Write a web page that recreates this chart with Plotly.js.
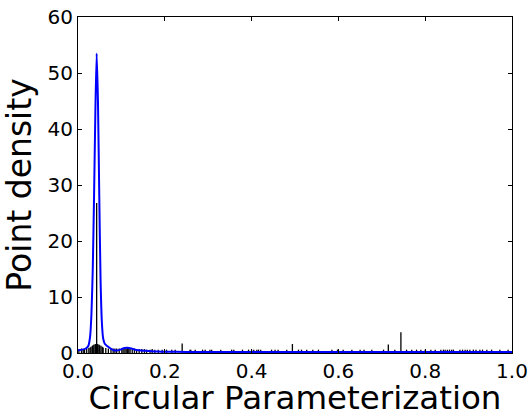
<!DOCTYPE html>
<html>
<head>
<meta charset="utf-8">
<script src="https://cdn.plot.ly/plotly-3.0.1.min.js"></script>
<style>html,body{margin:0;padding:0;background:#fff;}#chart{width:531px;height:417px;}</style>
</head>
<body>
<div id="chart"></div>
<script>
// KDE curve
const kdeX = [0.000,0.010,0.018,0.024,0.028,0.031,0.034,0.037,0.040,0.043,0.046,0.049,0.052,0.055,0.058,0.062,0.068,0.075,0.082,0.090,0.098,0.105,0.112,0.118,0.125,0.135,0.145,0.155,0.170,0.185,0.200,0.250,0.300,0.400,0.500,0.600,0.700,0.800,0.900,1.000];
const kdeY = [0.5,0.6,0.8,1.3,3.0,7.0,15.0,28.0,43.0,53.5,45.0,28.0,13.0,5.5,2.6,1.6,1.2,0.8,0.5,0.45,0.6,0.85,0.95,0.9,0.75,0.55,0.45,0.38,0.3,0.25,0.22,0.2,0.2,0.2,0.2,0.2,0.2,0.2,0.2,0.2];

// histogram / rug bars (position, height)
const rugX = [0.002,0.008,0.012,0.015,0.020,0.025,0.028,0.030,0.033,0.035,0.037,0.040,0.043,0.045,0.048,0.050,0.053,0.056,0.058,0.064,0.070,0.076,0.081,0.085,0.089,0.095,0.101,0.104,0.108,0.111,0.114,0.117,0.120,0.125,0.130,0.135,0.141,0.147,0.153,0.158,0.166,0.171,0.177,0.185,0.194,0.204,0.216,0.224,0.240,0.258,
0.260,0.270,0.287,0.293,0.304,0.308,0.329,0.354,0.359,0.379,0.393,0.400,0.405,0.412,0.416,0.421,0.446,0.454,0.461,0.481,0.494,0.508,0.515,0.527,
0.541,0.554,0.585,0.598,0.611,0.631,0.650,0.659,0.677,0.704,0.715,0.730,0.744,0.757,0.769,0.780,
0.790,0.800,0.813,0.823,0.836,0.842,0.846,0.851,0.856,0.861,0.865,0.880,0.886,0.892,0.897,0.903,0.911,0.917,0.926,0.932,0.942,0.953,0.972,0.991];
const rugH = [0.7,0.8,0.7,0.8,0.8,0.9,1.0,1.1,1.3,1.4,1.5,1.6,26.8,1.6,1.5,1.4,1.3,1.1,1.0,0.9,0.8,0.8,0.8,0.8,0.8,0.8,0.8,0.8,0.9,0.8,0.9,0.8,0.8,0.8,0.8,0.7,0.7,0.7,0.7,0.6,0.6,0.7,0.6,0.6,0.6,0.6,0.6,0.6,1.7,0.6,
0.6,0.6,0.6,0.6,0.6,0.6,0.6,0.6,0.6,0.6,0.6,0.6,0.6,0.6,0.6,0.6,0.6,0.6,0.6,0.6,1.6,0.6,0.6,0.6,
0.6,0.6,0.6,0.6,0.6,0.6,0.6,0.6,0.6,0.6,1.5,0.6,3.7,0.6,0.6,0.6,
0.6,0.6,0.6,0.6,0.6,0.6,0.6,0.6,0.6,0.6,0.6,0.6,0.6,0.6,0.6,0.6,0.6,0.6,0.6,0.6,0.6,0.6,0.6,0.6];

const xTicks = [0.0,0.2,0.4,0.6,0.8,1.0];
const yTicks = [0,10,20,30,40,50,60];

// build vertical segments for the bars
const segX = [], segY = [];
rugX.forEach((x, i) => { segX.push(x, x, null); segY.push(0, rugH[i], null); });

const traces = [
  {x: segX, y: segY, mode: 'lines', line: {color: 'black', width: 1.3}, hoverinfo: 'skip', showlegend: false},
  {x: kdeX, y: kdeY, mode: 'lines', line: {color: '#0000ff', width: 2, shape: 'spline', smoothing: 0.6}, showlegend: false}
];

const font = {family: 'DejaVu Sans', color: 'black'};
const layout = {
  width: 531, height: 417,
  margin: {l: 78, r: 19, t: 17, b: 64},
  paper_bgcolor: 'white', plot_bgcolor: 'white',
  font: font,
  showlegend: false,
  xaxis: {
    range: [0, 1], tickvals: xTicks, ticktext: xTicks.map(v => v.toFixed(1)),
    ticks: 'inside', ticklen: 4, tickcolor: 'black', mirror: 'ticks',
    showline: true, linecolor: 'black', linewidth: 1, showgrid: false, zeroline: false,
    tickfont: {family: 'DejaVu Sans', size: 20, color: 'black'},
    title: {text: 'Circular Parameterization', font: {family: 'DejaVu Sans', size: 32.5, color: 'black'}, standoff: 5}
  },
  yaxis: {
    range: [0, 60], tickvals: yTicks, ticktext: yTicks.map(String),
    ticks: 'inside', ticklen: 4, tickcolor: 'black', mirror: 'ticks',
    showline: true, linecolor: 'black', linewidth: 1, showgrid: false, zeroline: false,
    tickfont: {family: 'DejaVu Sans', size: 20, color: 'black'},
    title: {text: 'Point density', font: {family: 'DejaVu Sans', size: 33, color: 'black'}, standoff: 6}
  }
};

Plotly.newPlot('chart', traces, layout, {displayModeBar: false, staticPlot: true});
</script>
</body>
</html>
